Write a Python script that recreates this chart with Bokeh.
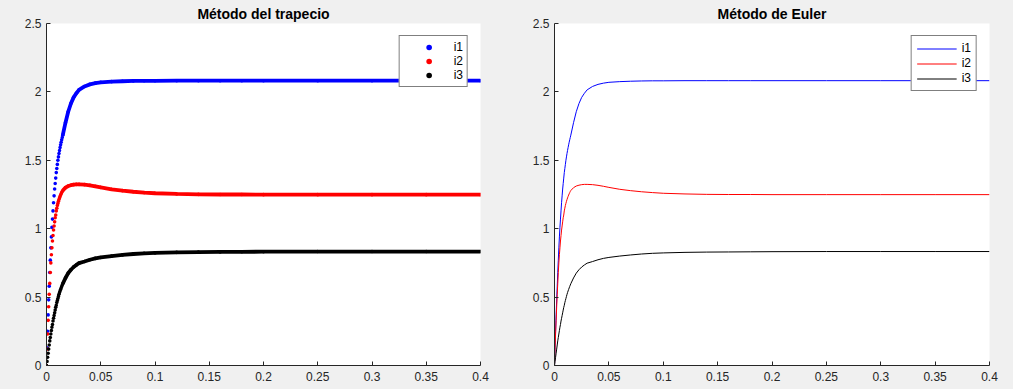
from bokeh.plotting import figure
from bokeh.layouts import row
from bokeh.models import FixedTicker, Legend, LegendItem
from bokeh.embed import file_html
from bokeh.resources import INLINE

# ---- data ----
t = [0, 0.0005, 0.001, 0.0015, 0.002, 0.0025, 0.003, 0.0035, 0.004, 0.0045,
     0.005, 0.0055, 0.006, 0.0065, 0.007, 0.0075, 0.008, 0.0085, 0.009, 0.0095,
     0.01, 0.0105, 0.011, 0.0115, 0.012, 0.0125, 0.013, 0.0135, 0.014, 0.0145,
     0.015, 0.0175, 0.02, 0.0225, 0.025, 0.0275, 0.03, 0.035, 0.04, 0.045,
     0.05, 0.06, 0.07, 0.08, 0.09, 0.1, 0.12, 0.14, 0.16, 0.18,
     0.2, 0.25, 0.3, 0.35, 0.4]
i1 = [0, 0.13, 0.25, 0.37, 0.48, 0.58, 0.68, 0.77, 0.86, 0.94,
      1.01, 1.07, 1.13, 1.19, 1.24, 1.29, 1.33, 1.37, 1.41, 1.44,
      1.47, 1.50, 1.525, 1.55, 1.572, 1.593, 1.613, 1.632, 1.65, 1.667,
      1.684, 1.775, 1.855, 1.915, 1.96, 1.99, 2.015, 2.04, 2.055, 2.064,
      2.07, 2.075, 2.078, 2.08, 2.081, 2.081, 2.082, 2.082, 2.082, 2.082,
      2.082, 2.082, 2.082, 2.082, 2.082]
i2 = [0, 0.12, 0.23, 0.33, 0.43, 0.52, 0.60, 0.68, 0.75, 0.81,
      0.86, 0.91, 0.95, 0.99, 1.02, 1.05, 1.08, 1.10, 1.13, 1.15,
      1.17, 1.185, 1.20, 1.213, 1.225, 1.236, 1.246, 1.255, 1.264, 1.272,
      1.279, 1.30, 1.312, 1.318, 1.322, 1.324, 1.324, 1.322, 1.317, 1.31,
      1.302, 1.288, 1.278, 1.27, 1.264, 1.259, 1.254, 1.251, 1.25, 1.25,
      1.249, 1.249, 1.249, 1.249, 1.249]
i3 = [0, 0.03, 0.06, 0.09, 0.12, 0.15, 0.18, 0.205, 0.23, 0.255,
      0.28, 0.30, 0.325, 0.345, 0.365, 0.385, 0.405, 0.425, 0.44, 0.46,
      0.475, 0.49, 0.505, 0.52, 0.533, 0.545, 0.556, 0.567, 0.578, 0.588,
      0.598, 0.64, 0.675, 0.70, 0.72, 0.735, 0.748, 0.76, 0.773, 0.783,
      0.79, 0.80, 0.808, 0.815, 0.82, 0.823, 0.827, 0.829, 0.83, 0.831,
      0.832, 0.833, 0.833, 0.833, 0.833]
series_names = ["i1", "i2", "i3"]
series_colors = ["#0000ff", "#ff0000", "#000000"]
titles = ["Método del trapecio", "Método de Euler"]
x_ticks = [0, 0.05, 0.1, 0.15, 0.2, 0.25, 0.3, 0.35, 0.4]
x_tick_labels = ["0", "0.05", "0.1", "0.15", "0.2", "0.25", "0.3", "0.35", "0.4"]
y_ticks = [0, 0.5, 1, 1.5, 2, 2.5]
y_tick_labels = ["0", "0.5", "1", "1.5", "2", "2.5"]

FONT = "Liberation Sans"
INK = "#262626"
BG = "#f0f0f0"


def make_fig(title, width, bl, br):
    p = figure(width=width, height=389, x_range=(0, 0.4), y_range=(0, 2.5),
               output_backend="svg", toolbar_location=None,
               min_border_left=bl, min_border_right=br,
               min_border_top=23, min_border_bottom=24,
               background_fill_color="white", border_fill_color=BG,
               outline_line_color=None, title=title)
    p.title.align = "center"
    p.title.text_font = FONT
    p.title.text_font_size = "14px"
    p.title.text_font_style = "bold"
    p.title.text_color = "black"
    p.title.standoff = 3
    p.xgrid.visible = False
    p.ygrid.visible = False
    p.xaxis.ticker = FixedTicker(ticks=x_ticks)
    p.yaxis.ticker = FixedTicker(ticks=y_ticks)
    p.xaxis.major_label_overrides = dict(zip(x_ticks, x_tick_labels))
    p.yaxis.major_label_overrides = dict(zip(y_ticks, y_tick_labels))
    for ax in (p.xaxis, p.yaxis):
        ax.axis_line_color = INK
        ax.major_tick_line_color = INK
        ax.major_tick_in = 4
        ax.major_tick_out = 0
        ax.minor_tick_line_color = None
        ax.major_label_text_font = FONT
        ax.major_label_text_font_size = "12px"
        ax.major_label_text_color = INK
    p.xaxis.major_label_standoff = 6
    p.yaxis.major_label_standoff = 5
    return p


series = [i1, i2, i3]

# ---- left: trapezoid (dots) ----
p1 = make_fig(titles[0], 517, 46, 37)
k = t.index(0.015)
items1 = []
for name, col, y in zip(series_names, series_colors, series):
    r = p1.scatter(t, y, size=3.6, color=col, line_width=0)
    p1.line(t[k:], y[k:], line_width=3.8, color=col)
    items1.append(LegendItem(label=name, renderers=[r]))
leg1 = Legend(items=items1, location="top_right", margin=12, padding=4,
              spacing=0, glyph_width=50, glyph_height=14, label_height=14,
              label_width=0, label_standoff=0,
              border_line_color="black", border_line_width=1,
              background_fill_color="white", background_fill_alpha=1,
              label_text_font=FONT, label_text_font_size="12px",
              label_text_color="black")
p1.add_layout(leg1)

# ---- right: Euler (lines) ----
p2 = make_fig(titles[1], 496, 37, 24)
items2 = []
for name, col, y in zip(series_names, series_colors, series):
    r = p2.line(t, y, line_width=1, color=col)
    items2.append(LegendItem(label=name, renderers=[r]))
leg2 = Legend(items=items2, location="top_right", margin=12, padding=5,
              spacing=1, glyph_width=40, glyph_height=13, label_height=13,
              label_width=0, label_standoff=5,
              border_line_color="black", border_line_width=1,
              background_fill_color="white", background_fill_alpha=1,
              label_text_font=FONT, label_text_font_size="12px",
              label_text_color="black")
p2.add_layout(leg2)

layout = row(p1, p2)
html = file_html(layout, INLINE)
html = html.replace("<body>", '<body style="background:#f0f0f0;overflow:hidden">')
open("out.html", "w").write(html)
